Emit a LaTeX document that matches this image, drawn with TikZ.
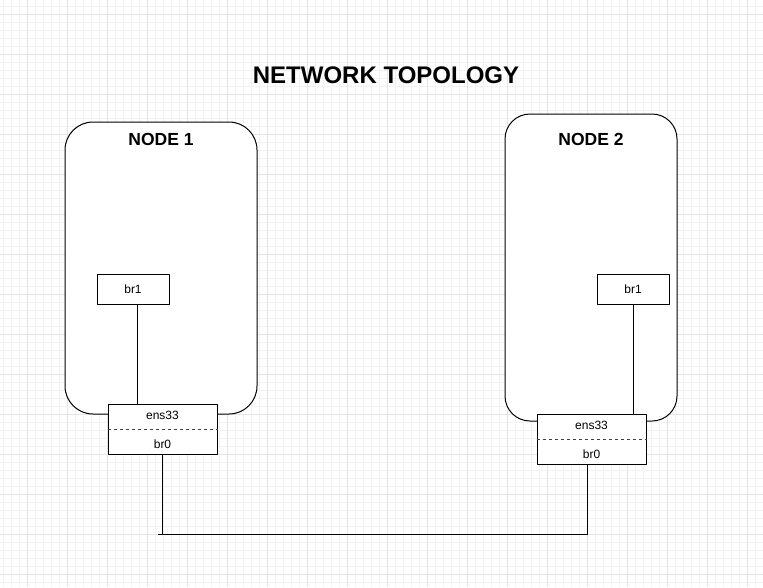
\documentclass[tikz,border=0pt]{standalone}
\usepackage{fontspec}
\setmainfont{Liberation Sans}
\usetikzlibrary{positioning}
\begin{document}
\begin{tikzpicture}[x=1pt, y=-1pt, line join=round, line width=1pt,
	host/.style={draw, fill=white, rounded corners=28pt, inner sep=0pt},
	bridge/.style={draw, fill=white, minimum width=72pt, minimum height=30pt, inner sep=0pt, font=\fontsize{12}{14}\selectfont},
	iface/.style={draw, fill=white, minimum width=109pt, minimum height=50pt, inner sep=0pt},
	lbl/.style={inner sep=0pt, font=\fontsize{12}{14}\selectfont}]
	\useasboundingbox (0,0) rectangle (763,587);
	\fill[white] (0,0) rectangle (763,587);
	% grid
	\foreach \x in {3,11,...,763}{\draw[line width=0.6pt, black!5] (\x,0) -- (\x,587);}
	\foreach \y in {6,14,...,587}{\draw[line width=0.6pt, black!5] (0,\y) -- (763,\y);}
	\foreach \x in {27,67,...,763}{\draw[line width=0.8pt, black!10] (\x,0) -- (\x,587);}
	\foreach \y in {14,54,...,587}{\draw[line width=0.8pt, black!10] (0,\y) -- (763,\y);}
	% title
	\node[anchor=base, inner sep=0pt, font=\fontsize{24}{28}\selectfont\bfseries] (title) at (386,83) {NETWORK TOPOLOGY};
	% hosts
	\node[host, minimum width=192pt, minimum height=292pt] (hosta) at (161,268) {};
	\node[host, rounded corners=25pt, minimum width=172pt, minimum height=307pt] (hostb) at (591,267.5) {};
	\foreach \n/\x/\t in {hosta/161/1, hostb/591/2}{
	\node[anchor=base, inner sep=0pt, font=\fontsize{17.5}{20}\selectfont\bfseries] (\n-name) at (\x,145) {NODE \t};
	}
	\node[bridge] (br1a) at (133,289) {br1};
	\node[bridge] (br1b) at (633,289) {br1};
	\node[iface] (ifa) at (162.5,429) {};
	\node[iface] (ifb) at (591.5,439) {};
	\foreach \i in {ifa, ifb}{
	\draw[dash pattern=on 3pt off 3pt, black!75] (\i.west) -- (\i.east);
	\node[lbl] (\i-ens) at ([yshift=14pt]\i.center) {ens33};
	\node[lbl] (\i-br) at ([yshift=-15pt]\i.center) {br0};
	}
	% links
	\draw ([xshift=4pt]br1a.south) -- ([xshift=4pt]br1a.south |- ifa.north);
	\draw (br1b.south) -- (br1b.south |- ifb.north);
	\coordinate (bus) at (158,534);
	\draw (ifa.south) -- (ifa.south |- bus);
	\draw (bus) -- ([xshift=-4.5pt]ifb.south |- bus) -- ([xshift=-4.5pt]ifb.south);
\end{tikzpicture}
\end{document}
